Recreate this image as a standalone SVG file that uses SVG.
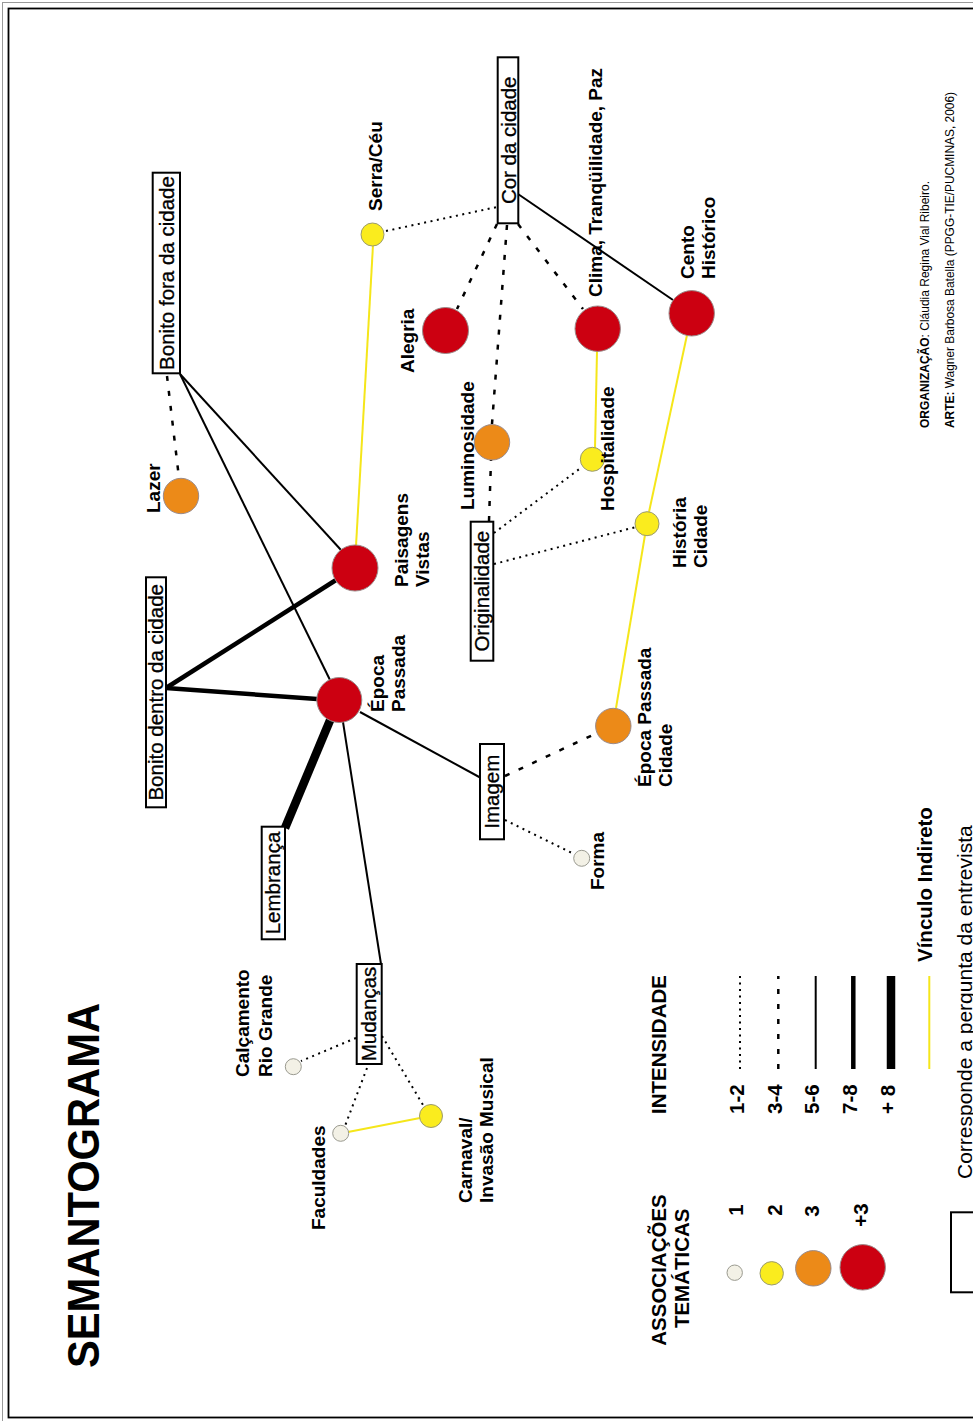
<svg xmlns="http://www.w3.org/2000/svg" width="973" height="1421" viewBox="0 0 973 1421">
<style>
text{font-family:"Liberation Sans",Arial,sans-serif;fill:#000}
.bt{font-size:20.5px;text-anchor:middle;stroke:#000;stroke-width:0.3}
.lb{font-size:19px;font-weight:bold}
.lg{font-size:20.5px;font-weight:bold}
.box{fill:#fff;stroke:#000;stroke-width:2}
.red{fill:#cc0011;stroke:#9a8a8a;stroke-width:1}
.org{fill:#ec8a18;stroke:#9a8a8a;stroke-width:1}
.yel{fill:#faec1e;stroke:#9a9a70;stroke-width:1}
.crm{fill:#f3f1e6;stroke:#9a9a90;stroke-width:1}
.dot{stroke:#000;stroke-width:2;stroke-dasharray:2 4.5;fill:none}
.dash{stroke:#000;stroke-width:2.5;stroke-dasharray:5 10;fill:none}
.s1{stroke:#000;stroke-width:2;fill:none}
.s2{stroke:#000;stroke-width:4.5;fill:none}
.s3{stroke:#000;stroke-width:8.5;fill:none}
.yl{stroke:#f5e61a;stroke-width:2;fill:none}
</style>
<rect x="0" y="0" width="973" height="1421" fill="#fff"/>
<rect x="2.5" y="2.5" width="1000" height="1430" fill="none" stroke="#999" stroke-width="1"/>
<rect x="8.5" y="8.5" width="1000" height="1409" fill="none" stroke="#000" stroke-width="1.8"/>

<text class="lg" style="font-size:44px" transform="translate(99 1368) rotate(-90)" textLength="365" lengthAdjust="spacingAndGlyphs">SEMANTOGRAMA</text>

<g id="connectors">
<line class="dash" x1="167" y1="376" x2="179" y2="478"/>
<line class="s1" x1="180" y1="374" x2="341" y2="550"/>
<line class="s1" x1="180" y1="374" x2="330" y2="680"/>
<line class="yl" x1="373" y1="245" x2="356" y2="546"/>
<line class="dot" x1="386" y1="231" x2="497" y2="207"/>
<line class="dash" x1="497" y1="224" x2="457" y2="309"/>
<line class="dash" x1="507" y1="225" x2="492" y2="424"/>
<line class="dash" x1="518" y1="224" x2="583" y2="309"/>
<line class="s1" x1="518" y1="194" x2="673" y2="300"/>
<line class="yl" x1="597" y1="351" x2="595" y2="448"/>
<line class="yl" x1="687" y1="335" x2="649" y2="512"/>
<line class="yl" x1="645" y1="535" x2="616" y2="708"/>
<line class="dash" x1="489" y1="521" x2="491" y2="460"/>
<line class="dot" x1="494" y1="533" x2="582" y2="467"/>
<line class="dot" x1="494" y1="564" x2="636" y2="527"/>
<line class="s2" x1="166" y1="688" x2="336" y2="580"/>
<line class="s2" x1="166" y1="688" x2="317" y2="699"/>
<line class="s3" x1="331" y1="718" x2="285" y2="828"/>
<line class="s1" x1="343" y1="722" x2="381" y2="964"/>
<line class="s1" x1="360" y1="712" x2="481" y2="778"/>
<line class="dash" x1="505" y1="776" x2="597" y2="733"/>
<line class="dot" x1="505" y1="820" x2="574" y2="854"/>
<line class="dot" x1="356" y1="1038" x2="301" y2="1061"/>
<line class="dot" x1="367" y1="1068" x2="345" y2="1126"/>
<line class="dot" x1="382" y1="1036" x2="423" y2="1105"/>
<line class="yl" x1="348" y1="1132" x2="420" y2="1118"/>
</g>

<g id="n-bonito-fora"><rect class="box" x="152.7" y="172.7" width="27.3" height="200.6"/><text class="bt" transform="translate(173.5 273) rotate(-90)">Bonito fora da cidade</text></g>
<g id="n-cor-cidade"><rect class="box" x="497.7" y="57.3" width="20.6" height="166"/><text class="bt" transform="translate(516 140.3) rotate(-90)">Cor da cidade</text></g>
<g id="n-originalidade"><rect class="box" x="470.7" y="521.7" width="22.6" height="139"/><text class="bt" transform="translate(488.5 591.2) rotate(-90)">Originalidade</text></g>
<g id="n-bonito-dentro"><rect class="box" x="146" y="577.3" width="20" height="230"/><text class="bt" transform="translate(163 692.3) rotate(-90)">Bonito dentro da cidade</text></g>
<g id="n-lembranca"><rect class="box" x="261.7" y="826.7" width="23.3" height="112.6"/><text class="bt" transform="translate(279.5 883) rotate(-90)">Lembrança</text></g>
<g id="n-imagem"><rect class="box" x="480" y="744" width="24" height="95.3"/><text class="bt" transform="translate(498.5 791.7) rotate(-90)">Imagem</text></g>
<g id="n-mudancas"><rect class="box" x="356.7" y="964" width="25" height="100"/><text class="bt" transform="translate(376 1014) rotate(-90)">Mudanças</text></g>

<g id="n-lazer"><circle class="org" cx="181" cy="496" r="17.7"/><text class="lb" transform="translate(159.5 513) rotate(-90)">Lazer</text></g>
<g id="n-serra"><circle class="yel" cx="372.5" cy="234.5" r="11.5"/><text class="lb" transform="translate(382 211) rotate(-90)">Serra/Céu</text></g>
<g id="n-paisagens"><circle class="red" cx="355" cy="568" r="23"/><text class="lb" transform="translate(408 587) rotate(-90)"><tspan x="0" y="0">Paisagens</tspan><tspan x="0" dy="21">Vistas</tspan></text></g>
<g id="n-epoca"><circle class="red" cx="339.3" cy="700" r="22.5"/><text class="lb" transform="translate(384 712) rotate(-90)"><tspan x="0" y="0">Época</tspan><tspan x="0" dy="21">Passada</tspan></text></g>
<g id="n-alegria"><circle class="red" cx="445.5" cy="330.5" r="23"/><text class="lb" transform="translate(414 373) rotate(-90)">Alegria</text></g>
<g id="n-clima"><circle class="red" cx="597.7" cy="328.7" r="22.7"/><text class="lb" transform="translate(602 297) rotate(-90)">Clima, Tranqüilidade, Paz</text></g>
<g id="n-cento"><circle class="red" cx="691.7" cy="313.3" r="22.7"/><text class="lb" transform="translate(694 279) rotate(-90)"><tspan x="0" y="0">Cento</tspan><tspan x="0" dy="21">Histórico</tspan></text></g>
<g id="n-luminosidade"><circle class="org" cx="492" cy="442.3" r="17.7"/><text class="lb" transform="translate(473.5 510) rotate(-90)">Luminosidade</text></g>
<g id="n-hospitalidade"><circle class="yel" cx="592.3" cy="459.3" r="12"/><text class="lb" transform="translate(614 511) rotate(-90)">Hospitalidade</text></g>
<g id="n-historia"><circle class="yel" cx="647" cy="523.7" r="12"/><text class="lb" transform="translate(686 568) rotate(-90)"><tspan x="0" y="0">História</tspan><tspan x="0" dy="21">Cidade</tspan></text></g>
<g id="n-epoca-cidade"><circle class="org" cx="613.3" cy="726" r="17.7"/><text class="lb" transform="translate(651 787) rotate(-90)"><tspan x="0" y="0">Época Passada</tspan><tspan x="0" dy="20.5">Cidade</tspan></text></g>
<g id="n-forma"><circle class="crm" cx="581.7" cy="858.3" r="8"/><text class="lb" transform="translate(603.5 890) rotate(-90)">Forma</text></g>
<g id="n-calcamento"><circle class="crm" cx="293.3" cy="1066.7" r="8"/><text class="lb" transform="translate(248.5 1077) rotate(-90)"><tspan x="0" y="0">Calçamento</tspan><tspan x="0" dy="23">Rio Grande</tspan></text></g>
<g id="n-faculdades"><circle class="crm" cx="340.7" cy="1133.3" r="8"/><text class="lb" transform="translate(325 1230) rotate(-90)">Faculdades</text></g>
<g id="n-carnaval"><circle class="yel" cx="431" cy="1116" r="11.5"/><text class="lb" transform="translate(472 1203) rotate(-90)"><tspan x="0" y="0">Carnaval/</tspan><tspan x="0" dy="21">Invasão Musical</tspan></text></g>

<g id="legend">
<text class="lg" text-anchor="middle" transform="translate(666 1270) rotate(-90)">ASSOCIAÇÕES</text>
<text class="lg" text-anchor="middle" transform="translate(688.5 1268.3) rotate(-90)">TEMÁTICAS</text>
<circle class="crm" cx="734.7" cy="1272.7" r="7.7"/>
<circle class="yel" cx="771.7" cy="1273.3" r="11.7"/>
<circle class="org" cx="813.3" cy="1268.3" r="17.7"/>
<circle class="red" cx="862.7" cy="1267.3" r="22.7"/>
<text class="lg" text-anchor="middle" transform="translate(743 1210) rotate(-90)">1</text>
<text class="lg" text-anchor="middle" transform="translate(781.5 1210) rotate(-90)">2</text>
<text class="lg" text-anchor="middle" transform="translate(819 1211) rotate(-90)">3</text>
<text class="lg" text-anchor="middle" transform="translate(868 1215) rotate(-90)">+3</text>
<text class="lg" transform="translate(666 1114) rotate(-90)">INTENSIDADE</text>
<text class="lg" transform="translate(744 1114) rotate(-90)">1-2</text>
<text class="lg" transform="translate(781.5 1114) rotate(-90)">3-4</text>
<text class="lg" transform="translate(819 1114) rotate(-90)">5-6</text>
<text class="lg" transform="translate(856.5 1114) rotate(-90)">7-8</text>
<text class="lg" transform="translate(895 1114) rotate(-90)">+ 8</text>
<line class="dot" x1="740" y1="1069" x2="740" y2="976"/>
<line class="dash" x1="778.3" y1="1069" x2="778.3" y2="976"/>
<line class="s1" x1="815.7" y1="1069" x2="815.7" y2="976"/>
<line class="s2" x1="853.3" y1="1069" x2="853.3" y2="976"/>
<line class="s3" x1="891" y1="1069" x2="891" y2="976"/>
<line class="yl" x1="929.3" y1="1069" x2="929.3" y2="976"/>
<text class="lg" transform="translate(931.5 962) rotate(-90)">Vínculo Indireto</text>
<text style="font-size:21px" transform="translate(971.5 1179) rotate(-90)">Corresponde a pergunta da entrevista</text>
<rect class="box" x="951" y="1212.3" width="40" height="80"/>
<text style="font-size:12px" transform="translate(929 428) rotate(-90)" textLength="247" lengthAdjust="spacingAndGlyphs"><tspan font-weight="bold">ORGANIZAÇÃO</tspan>: Cláudia Regina Vial Ribeiro.</text>
<text style="font-size:12px" transform="translate(954 428) rotate(-90)" textLength="336" lengthAdjust="spacingAndGlyphs"><tspan font-weight="bold">ARTE:</tspan> Wagner Barbosa Batella (PPGG-TIE/PUCMINAS, 2006)</text>
</g>
</svg>
